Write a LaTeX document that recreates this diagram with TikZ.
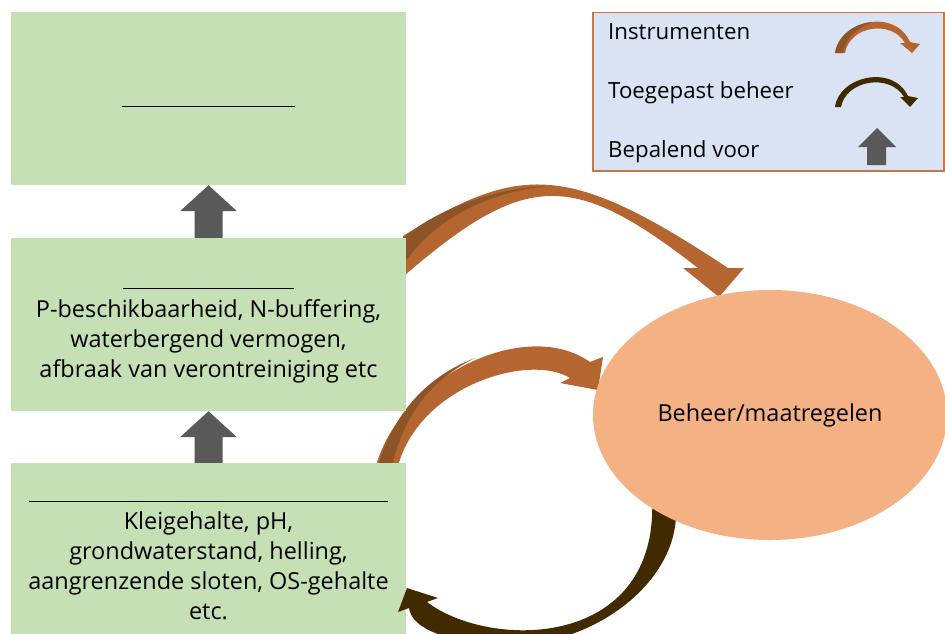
\documentclass[tikz,border=0pt]{standalone}
\usepackage{fontspec}
\setmainfont{Open Sans}
\usetikzlibrary{shapes.geometric}
\usetikzlibrary{calc}
\definecolor{green1}{RGB}{197,224,180}
\definecolor{orange1}{RGB}{244,177,131}
\definecolor{brown1}{RGB}{181,101,48}
\definecolor{brown2}{RGB}{141,84,40}
\definecolor{brown3}{RGB}{66,42,0}
\definecolor{gray1}{RGB}{89,89,89}
\definecolor{blue1}{RGB}{218,227,243}
\definecolor{border1}{RGB}{196,120,70}

\begin{document}
\begin{tikzpicture}[x=0.03cm, y=-0.03cm,
  txt/.style={font=\fontsize{20}{25.6}\selectfont},
  legtxt/.style={font=\fontsize{19}{25.6}\selectfont, anchor=west, inner sep=0pt},
  box/.style={txt, rectangle, fill=green1, minimum width=11.85cm, minimum height=5.19cm, align=center},
  legbox/.style={rectangle, fill=blue1, draw=border1, line width=1.2pt, minimum width=10.53cm, minimum height=4.75cm}]
  \useasboundingbox (0,0) rectangle (945,633);
  \clip (0,0) rectangle (945,633);
  % instrumenten (behind the boxes)
  \fill[brown1] (403,236) .. controls (521,162.7) and (569,162.7) .. (728,268) -- (744,268) -- (719,297)
    -- (683,268) -- (698,268) .. controls (573,170.8) and (526,170.8) .. (405,275) -- cycle;
  \fill[brown2] (403,238) .. controls (440,207) and (500,187) .. (550,186) .. controls (500,190) and (440,212) .. (405,262) -- cycle;
  \fill[brown1] (376,466) .. controls (400,378) and (525,316) .. (590,362) -- (603,357) -- (598,390)
    -- (560,383) -- (570,378) .. controls (530,353) and (420,385) .. (398,466) -- cycle;
  \fill[brown2] (378,466) .. controls (394,412) and (428,376) .. (475,358) .. controls (435,378) and (405,410) .. (392,466) -- cycle;

  \node[box] (top) at (208.5,98.5) {\strut\rule[-2.5pt]{5.19cm}{1pt}};
  \node[box] (mid) at (208.5,324.5) {\strut\rule[-1.7pt]{5.1cm}{1pt}\\
    P-beschikbaarheid, N-buffering,\\ waterbergend vermogen,\\ afbraak van verontreiniging etc};
  \node[box] (bot) at (208.5,549.5) {\strut\rule[-1.7pt]{10.74cm}{1pt}\\
    Kleigehalte, pH,\\ grondwaterstand, helling,\\ aangrenzende sloten, OS-gehalte\\ etc.};
  \foreach \from/\to in {mid/top, bot/mid}
    \fill[gray1] ($(\from.north)+(-14,0)$) -- ($(\to.south)+(-14,26)$) -- ($(\to.south)+(-28.5,26)$) -- (\to.south)
      -- ($(\to.south)+(28.5,26)$) -- ($(\to.south)+(14,26)$) -- ($(\from.north)+(14,0)$) -- cycle;

  % toegepast beheer
  \fill[brown3] (675,497) .. controls (688,580) and (590,650) .. (500,645) .. controls (450,642) and (412,630) .. (409,608)
    -- (398,612) -- (407,588) -- (438,598) -- (427,602) .. controls (490,650) and (660,650) .. (652,497) -- cycle;

  \node[txt, ellipse, fill=orange1, minimum width=10.62cm, minimum height=7.5cm] (ell) at (770,415) {Beheer/maatregelen};

  % legenda
  \node[legbox] (legend) at (768.5,91.75) {};
  \node[legtxt] (leg1) at (608,32) {Instrumenten};
  \node[legtxt] (leg2) at (608,93) {Toegepast beheer};
  \node[legtxt] (leg3) at (608,152) {Bepalend voor};
  \fill[brown1] (835,53) .. controls (840,20) and (895,8) .. (910,42) -- (920,44) -- (912,53) -- (900,43)
    -- (905,43) .. controls (892,20) and (850,25) .. (845,53) -- cycle;
  \fill[brown2] (835,53) .. controls (838,35) and (855,23) .. (873,22) .. controls (858,27) and (846,37) .. (843,53) -- cycle;
  \fill[brown3] (835,107) .. controls (839,76) and (893,64) .. (908,96) -- (918,98) -- (910,107) -- (900,97)
    -- (904,97) .. controls (890,73) and (846,80) .. (841,107) -- cycle;
  \fill[gray1] (867,165) -- (867,147) -- (858,147) -- (877,128) -- (896,147) -- (886,147) -- (886,165) -- cycle;
\end{tikzpicture}
\end{document}
